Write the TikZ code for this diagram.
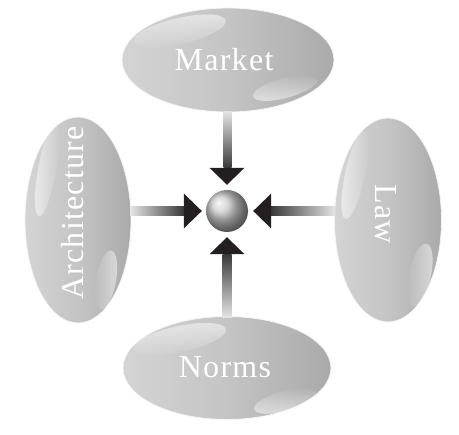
\documentclass[tikz,border=0pt]{standalone}
\usepackage{fontspec}
\newfontfamily\lblfont[LetterSpace=4]{Liberation Serif}
\usetikzlibrary{shapes.geometric,calc,fadings}
\definecolor{elL}{HTML}{D4D4D4}
\definecolor{elM}{HTML}{C4C4C4}
\definecolor{elR}{HTML}{AAAAAA}
\definecolor{shL}{HTML}{E4E4E4}
\definecolor{shD}{HTML}{3A3A3A}
\definecolor{headc}{HTML}{231F20}
\definecolor{ballc}{HTML}{CACACA}
\begin{document}
\begin{tikzpicture}[x=1pt,y=-1pt,
  pill/.style={ellipse, inner sep=0pt, left color=elL, right color=elR, middle color=elM, draw=white!92!gray, line width=0.8pt},
  hl/.style={fill=white, opacity=0.55},
  lbl/.style={text=white, inner sep=0pt, font=\lblfont\fontsize{32}{32}\selectfont},
  head/.style={fill=headc},
  ballstyle/.style={circle, inner sep=0pt, minimum size=42pt, ball color=ballc}]
\useasboundingbox (0,0) rectangle (459,435);
% ellipses
\node[pill, minimum width=212pt, minimum height=104pt] (M) at (228,60) {};
\node[pill, minimum width=208pt, minimum height=103pt] (N) at (227,368) {};
\node[pill, minimum width=106pt, minimum height=206pt] (A) at (78,220) {};
\node[pill, minimum width=107pt, minimum height=204pt] (L) at (388,220) {};
% highlights
\fill[hl, path fading=south, rotate around={13:(180,31)}] (180,31) ellipse (47pt and 13pt);
\fill[hl, path fading=north, rotate around={15:(285,88)}] (285,88) ellipse (33pt and 10pt);
\fill[hl, path fading=south, rotate around={12:(180,339)}] (180,339) ellipse (47pt and 13pt);
\fill[hl, path fading=north, rotate around={15:(285,401)}] (285,401) ellipse (32pt and 10pt);
\fill[hl, path fading=east, rotate around={-10:(47,170)}] (47,170) ellipse (9pt and 47pt);
\fill[hl, path fading=west, rotate around={-10:(106,280)}] (106,280) ellipse (10pt and 30pt);
\fill[hl, path fading=east, rotate around={-12:(355,175)}] (355,175) ellipse (10pt and 45pt);
\fill[hl, path fading=west, rotate around={-12:(420,275)}] (420,275) ellipse (11pt and 32pt);
% labels
\node[lbl] (tM) at (224,60) {Market};
\node[lbl] (tN) at (225,367) {Norms};
\node[lbl, rotate=90] (tA) at (73,213) {Architecture};
\node[lbl, rotate=-90] (tL) at (386,214) {Law};
% centre ball
\node[ballstyle] (c) at (227,211) {};
% arrow tips
\coordinate (tT) at ($(c.north)+(0,-5)$);
\coordinate (tB) at ($(c.south)+(0,5)$);
\coordinate (tLf) at ($(c.west)+(-4,0)$);
\coordinate (tRt) at ($(c.east)+(5,0)$);
% shafts
\shade[top color=shL, bottom color=shD] ($(M.south)+(-4.5,-1)$) rectangle ($(tT)+(4.5,-17)$);
\shade[bottom color=shL, top color=shD] ($(N.north)+(-4.5,1)$) rectangle ($(tB)+(4.5,17)$);
\shade[left color=shL, right color=shD] ($(A.east |- c)+(-1,-4.5)$) rectangle ($(tLf)+(-18,4.5)$);
\shade[right color=shL, left color=shD] ($(L.west |- c)+(1,-4.5)$) rectangle ($(tRt)+(18,4.5)$);
% heads
\fill[head] (tT) -- ++(-17.5,-17) -- ++(35,0) -- cycle;
\fill[head] (tB) -- ++(-17.5,17) -- ++(35,0) -- cycle;
\fill[head] (tLf) -- ++(-18,-17.5) -- ++(0,35) -- cycle;
\fill[head] (tRt) -- ++(18,-17.5) -- ++(0,35) -- cycle;
\end{tikzpicture}
\end{document}
